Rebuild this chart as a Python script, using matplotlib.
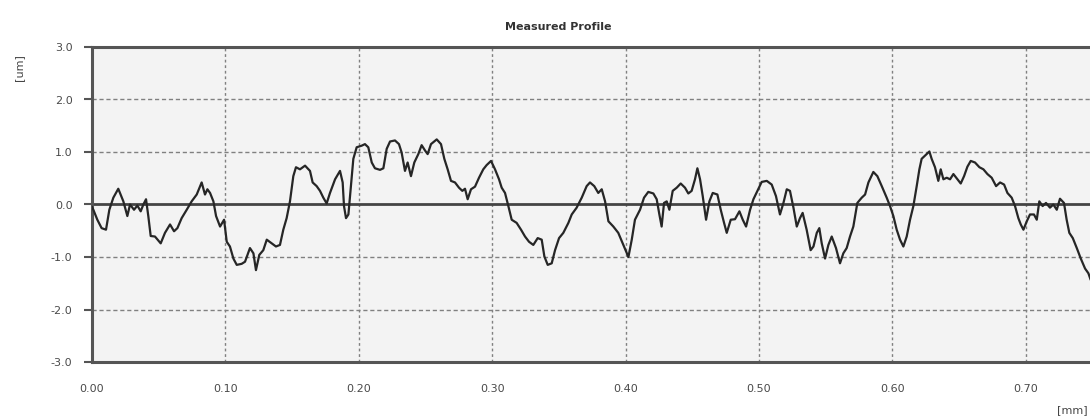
import matplotlib
matplotlib.use('Agg')
import matplotlib.pyplot as plt
import numpy as np

# profile (x in mm, height in um)
x_mm = [
    0.0000, 0.0010, 0.0040, 0.0072, 0.0105, 0.0130, 0.0160, 0.0197, 0.0235, 0.0265,
    0.0285, 0.0315, 0.0340, 0.0365, 0.0385, 0.0405, 0.0422, 0.0440, 0.0472, 0.0515,
    0.0547, 0.0585, 0.0615, 0.0640, 0.0672, 0.0710, 0.0747, 0.0785, 0.0822, 0.0847,
    0.0865, 0.0885, 0.0910, 0.0930, 0.0960, 0.0990, 0.1010, 0.1034, 0.1060, 0.1085,
    0.1122, 0.1147, 0.1184, 0.1210, 0.1229, 0.1254, 0.1284, 0.1310, 0.1347, 0.1379,
    0.1409, 0.1434, 0.1459, 0.1484, 0.1509, 0.1529, 0.1559, 0.1597, 0.1634, 0.1654,
    0.1684, 0.1709, 0.1734, 0.1759, 0.1784, 0.1822, 0.1859, 0.1879, 0.1889, 0.1904,
    0.1922, 0.1934, 0.1959, 0.1984,
    0.2021, 0.2046, 0.2071, 0.2097, 0.2121, 0.2159, 0.2184, 0.2209, 0.2234, 0.2271,
    0.2301, 0.2321, 0.2346, 0.2366, 0.2391, 0.2416, 0.2446, 0.2471, 0.2496, 0.2516,
    0.2541, 0.2584, 0.2616, 0.2641, 0.2666, 0.2691, 0.2721, 0.2751, 0.2776, 0.2796,
    0.2816, 0.2841, 0.2871, 0.2901, 0.2933, 0.2958, 0.2991, 0.3021, 0.3051, 0.3071,
    0.3096, 0.3121, 0.3146, 0.3183, 0.3216, 0.3246, 0.3276, 0.3308, 0.3341, 0.3371,
    0.3391, 0.3416, 0.3446, 0.3471, 0.3501, 0.3533, 0.3571, 0.3596, 0.3633, 0.3671,
    0.3708, 0.3733, 0.3765, 0.3795, 0.3821, 0.3846, 0.3871, 0.3908, 0.3945, 0.3983,
    0.4021, 0.4046, 0.4070, 0.4108, 0.4138, 0.4170, 0.4208, 0.4233, 0.4253, 0.4270,
    0.4288, 0.4308, 0.4328, 0.4353, 0.4383, 0.4413, 0.4445, 0.4470, 0.4495, 0.4520,
    0.4538, 0.4558, 0.4578, 0.4603, 0.4628, 0.4653, 0.4688, 0.4713, 0.4738, 0.4758,
    0.4788, 0.4820, 0.4853, 0.4878, 0.4903, 0.4933, 0.4958, 0.4988, 0.5020, 0.5058,
    0.5095, 0.5127, 0.5157, 0.5183, 0.5208, 0.5232, 0.5258, 0.5283, 0.5307, 0.5327,
    0.5357, 0.5387, 0.5408, 0.5433, 0.5452, 0.5470, 0.5495, 0.5520, 0.5545, 0.5577,
    0.5607, 0.5632, 0.5657, 0.5682, 0.5707, 0.5737, 0.5770, 0.5795, 0.5820, 0.5857,
    0.5887, 0.5920, 0.5957, 0.5982,
    0.6007, 0.6032, 0.6057, 0.6082, 0.6107, 0.6132, 0.6157, 0.6182, 0.6202, 0.6219,
    0.6244, 0.6277, 0.6294, 0.6319, 0.6344, 0.6362, 0.6382, 0.6407, 0.6432, 0.6457,
    0.6487, 0.6512, 0.6537, 0.6562, 0.6587, 0.6619, 0.6652, 0.6682, 0.6712, 0.6744,
    0.6777, 0.6807, 0.6837, 0.6862, 0.6894, 0.6919, 0.6944, 0.6962, 0.6982, 0.7007,
    0.7031, 0.7061, 0.7082, 0.7101, 0.7126, 0.7151, 0.7181, 0.7206, 0.7232, 0.7256,
    0.7286, 0.7306, 0.7326, 0.7352, 0.7382, 0.7412, 0.7444, 0.7469, 0.7484,
]
z_um = [
    -0.05, -0.10, -0.29, -0.45, -0.48, -0.10, 0.13, 0.30, 0.06, -0.22,
    0.00, -0.10, -0.02, -0.13, 0.00, 0.10, -0.22, -0.60, -0.61, -0.74,
    -0.54, -0.38, -0.51, -0.45, -0.26, -0.10, 0.06, 0.19, 0.42, 0.19,
    0.29, 0.22, 0.06, -0.22, -0.42, -0.29, -0.71, -0.80, -1.03, -1.15,
    -1.13, -1.09, -0.83, -0.93, -1.25, -0.96, -0.87, -0.67, -0.74, -0.80,
    -0.77, -0.48, -0.26, 0.06, 0.54, 0.71, 0.67, 0.74, 0.64, 0.42,
    0.35, 0.26, 0.13, 0.02, 0.22, 0.48, 0.64, 0.42, -0.03, -0.26,
    -0.19, 0.16, 0.87, 1.09,
    1.12, 1.15, 1.09, 0.80, 0.69, 0.66, 0.69, 1.06, 1.20, 1.22,
    1.15, 0.99, 0.64, 0.80, 0.54, 0.80, 0.96, 1.13, 1.03, 0.96,
    1.15, 1.24, 1.15, 0.87, 0.67, 0.45, 0.42, 0.32, 0.26, 0.30,
    0.10, 0.29, 0.34, 0.51, 0.67, 0.75, 0.83, 0.67, 0.48, 0.32,
    0.22, -0.03, -0.29, -0.35, -0.48, -0.61, -0.71, -0.77, -0.64, -0.67,
    -0.99, -1.15, -1.12, -0.87, -0.64, -0.54, -0.35, -0.19, -0.06, 0.13,
    0.35, 0.42, 0.35, 0.22, 0.29, 0.06, -0.32, -0.42, -0.54, -0.77,
    -1.00, -0.67, -0.29, -0.10, 0.13, 0.24, 0.21, 0.10, -0.19, -0.42,
    0.03, 0.06, -0.10, 0.26, 0.32, 0.40, 0.32, 0.21, 0.26, 0.48,
    0.69, 0.48, 0.16, -0.29, 0.06, 0.22, 0.19, -0.10, -0.35, -0.54,
    -0.29, -0.28, -0.13, -0.29, -0.42, -0.10, 0.10, 0.26, 0.43, 0.45,
    0.38, 0.16, -0.19, 0.03, 0.29, 0.26, -0.06, -0.42, -0.26, -0.16,
    -0.48, -0.87, -0.80, -0.54, -0.45, -0.74, -1.03, -0.77, -0.61, -0.83,
    -1.12, -0.93, -0.83, -0.61, -0.42, 0.03, 0.13, 0.19, 0.42, 0.62,
    0.54, 0.35, 0.13, -0.03,
    -0.22, -0.48, -0.67, -0.80, -0.61, -0.29, -0.03, 0.35, 0.67, 0.87,
    0.93, 1.01, 0.87, 0.71, 0.45, 0.67, 0.48, 0.51, 0.48, 0.58,
    0.48, 0.40, 0.54, 0.72, 0.83, 0.80, 0.71, 0.67, 0.58, 0.51,
    0.35, 0.42, 0.38, 0.22, 0.13, -0.03, -0.26, -0.38, -0.48, -0.32,
    -0.19, -0.19, -0.29, 0.06, -0.03, 0.03, -0.06, 0.00, -0.10, 0.11,
    0.03, -0.29, -0.54, -0.64, -0.83, -1.03, -1.22, -1.31, -1.42,
]

x_ticks = [0.0, 0.1, 0.2, 0.3, 0.4, 0.5, 0.6, 0.7]
x_labels = ['0.00', '0.10', '0.20', '0.30', '0.40', '0.50', '0.60', '0.70']
y_ticks = [-3, -2, -1, 0, 1, 2, 3]
y_labels = ['-3.0', '-2.0', '-1.0', '0.0', '1.0', '2.0', '3.0']

fig = plt.figure(figsize=(10.9, 4.19), dpi=100)
fig.patch.set_facecolor('white')
ax = fig.add_axes([92 / 1090, 57 / 419, 998 / 1090, 315 / 419])
ax.set_facecolor('#f3f3f3')

# grid first, zero line on top of it
for yv in y_ticks[1:-1]:
    if yv != 0:
        ax.axhline(yv, color='#808080', lw=1.0, ls=(0, (3, 2)), zorder=1)
for xv in x_ticks[1:]:
    ax.axvline(xv, color='#808080', lw=1.0, ls=(0, (2, 2)), zorder=1)
ax.axhline(0, color='#444444', lw=2.0, zorder=2)

ax.plot(x_mm, z_um, color='#262626', lw=1.6, zorder=3)

ax.set_xlim(0, 0.7481)
ax.set_ylim(-3, 3)
ax.set_xticks(x_ticks)
ax.set_xticklabels(x_labels)
ax.set_yticks(y_ticks)
ax.set_yticklabels(y_labels)
ax.tick_params(axis='x', length=0, pad=16, labelsize=8, labelcolor='#4a4a4a')
ax.tick_params(axis='y', length=6, width=1.5, color='#555555', pad=8,
               labelsize=8, labelcolor='#4a4a4a')

for side in ['top', 'bottom', 'left']:
    ax.spines[side].set_color('#555555')
    ax.spines[side].set_linewidth(2.2)
ax.spines['right'].set_visible(False)

fig.text(558 / 1090, 1 - 27 / 419, 'Measured Profile', ha='center', va='center',
         fontsize=8, fontweight='bold', color='#333333')
fig.text(19 / 1090, 1 - 68 / 419, '[um]', rotation=90, ha='center', va='center',
         fontsize=8, color='#444444')
fig.text(1072 / 1090, 1 - 410 / 419, '[mm]', ha='center', va='center',
         fontsize=8, color='#444444')

fig.savefig('out.png', dpi=100)
